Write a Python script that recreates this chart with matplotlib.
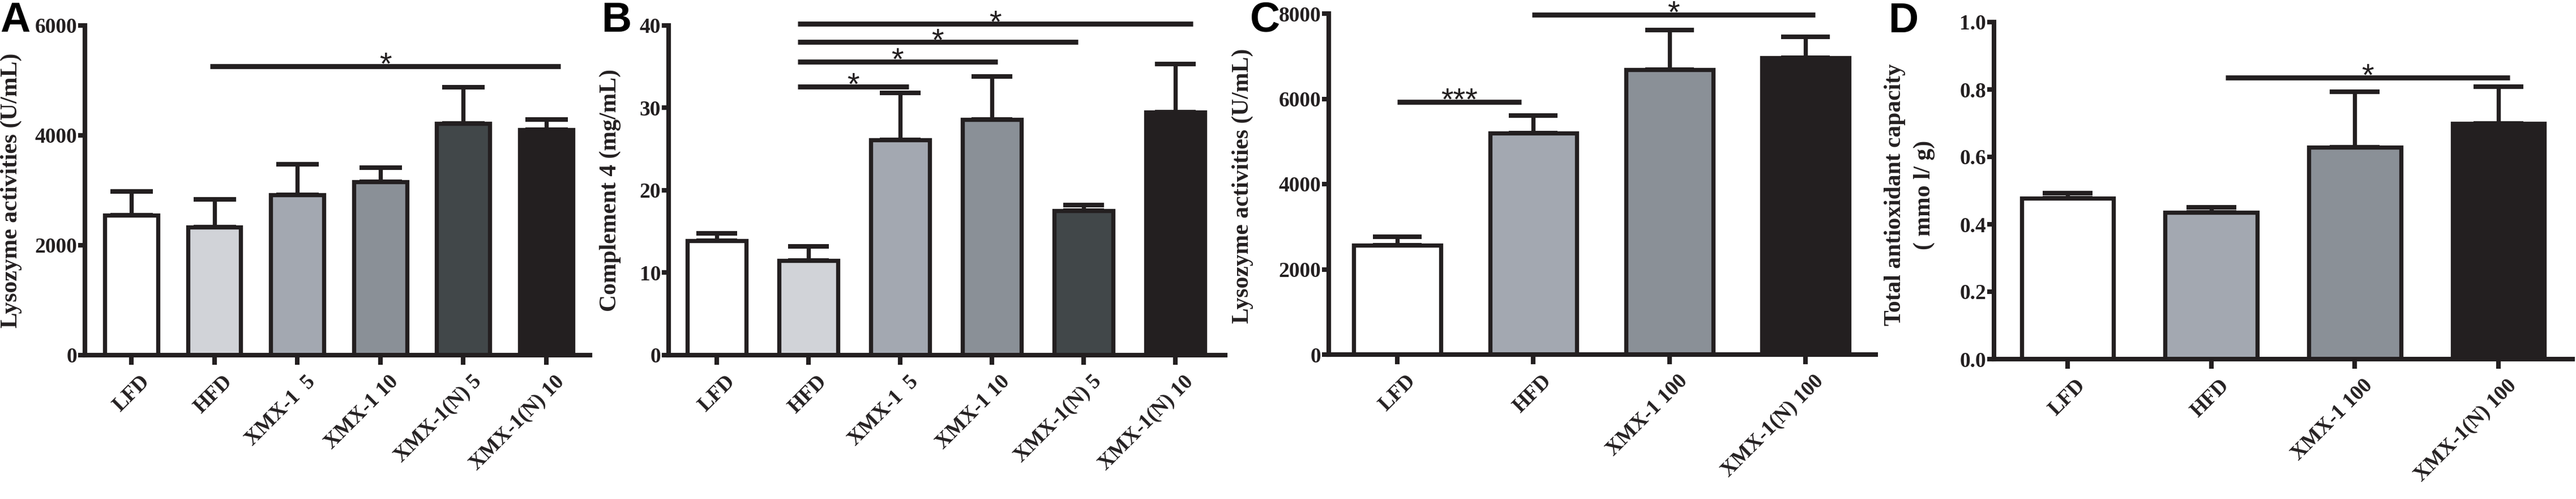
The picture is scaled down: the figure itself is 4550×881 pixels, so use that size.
import matplotlib
matplotlib.use("Agg")
import matplotlib.pyplot as plt
import matplotlib.transforms as mtransforms
import numpy as np

# ---------------- data ----------------
cats_AB = ["LFD", "HFD", "XMX-1  5", "XMX-1 10", "XMX-1(N) 5", "XMX-1(N) 10"]
cats_CD = ["LFD", "HFD", "XMX-1 100", "XMX-1(N) 100"]

A_mean = [2550, 2330, 2920, 3150, 4220, 4100]
A_err = [430, 510, 555, 260, 655, 190]

B_mean = [13.9, 11.5, 26.1, 28.6, 17.5, 29.5]
B_err = [0.9, 1.7, 5.7, 5.2, 0.7, 5.8]

C_mean = [2560, 5190, 6680, 6960]
C_err = [205, 415, 940, 500]

D_mean = [0.477, 0.436, 0.628, 0.700]
D_err = [0.016, 0.014, 0.166, 0.108]

A_yticks = [0, 2000, 4000, 6000]
B_yticks = [0, 10, 20, 30, 40]
C_yticks = [0, 2000, 4000, 6000, 8000]
D_yticks = [0.0, 0.2, 0.4, 0.6, 0.8, 1.0]

# significance brackets: (from, to, level, text)
A_sig = [(0.95, 5.17, 5260, "*")]
B_sig = [(0.88, 2.09, 32.6, "*"), (0.88, 3.06, 35.6, "*"),
         (0.88, 3.94, 38.0, "*"), (0.88, 5.19, 40.2, "*")]
C_sig = [(0.0, 0.91, 5930, "***"), (0.99, 3.07, 7980, "*")]
D_sig = [(1.10, 3.08, 0.836, "*")]

colors_AB = ["#ffffff", "#d1d3d8", "#a3a8b1", "#8a9097", "#414749", "#231f20"]
colors_CD = ["#ffffff", "#a3a8b1", "#8a9097", "#231f20"]

# ---------------- figure ----------------
W, H, DPI = 4550, 881, 100
fig = plt.figure(figsize=(W / DPI, H / DPI), dpi=DPI)
fig.patch.set_facecolor("white")

INK = "#231f20"
SERIF = "Liberation Serif"
LW = 5.3


def make_axes(left, right, top, zero):
    return fig.add_axes([left / W, (H - zero) / H, (right - left) / W, (zero - top) / H])


def panel(ax, cats, mean, err, colors, yticks, xlim, sig, capsize, yfmt):
    x = np.arange(len(cats))
    ax.bar(x, mean, width=0.64, color=colors, edgecolor=INK, linewidth=LW, zorder=3)
    ax.errorbar(x, mean, yerr=[np.zeros(len(err)), err], fmt="none", ecolor=INK,
                elinewidth=LW, capsize=capsize, capthick=LW * 1.1, zorder=2)
    ax.set_xlim(*xlim)
    ax.set_ylim(yticks[0], yticks[-1])
    ax.set_yticks(yticks)
    ax.set_yticklabels([yfmt.format(v) for v in yticks])
    ax.set_xticks(x)
    ax.set_xticklabels(cats, rotation=45, ha="right", rotation_mode="anchor")
    for s in ["top", "right"]:
        ax.spines[s].set_visible(False)
    for s in ["left", "bottom"]:
        ax.spines[s].set_linewidth(LW * 1.1)
        ax.spines[s].set_color(INK)
        ax.spines[s].set_zorder(5)
    ax.tick_params(axis="x", length=12, width=LW * 1.1, color=INK, pad=9)
    ax.tick_params(axis="y", length=9, width=LW * 1.1, color=INK, pad=1)
    for lab in ax.get_xticklabels() + ax.get_yticklabels():
        lab.set_fontfamily(SERIF)
        lab.set_fontweight("bold")
        lab.set_fontsize(27)
        lab.set_color(INK)
    off = mtransforms.ScaledTranslation(10 / 72, 0, fig.dpi_scale_trans)
    for lab in ax.get_xticklabels():
        lab.set_transform(lab.get_transform() + off)
    for x1, x2, y, txt in sig:
        ax.plot([x1, x2], [y, y], color=INK, lw=LW * 1.2, solid_capstyle="butt",
                clip_on=False, zorder=4)
        ax.annotate(txt, xy=((x1 + x2) / 2, y), xytext=(0, -10), textcoords="offset points",
                    ha="center", va="baseline", fontsize=40, fontfamily="Liberation Sans",
                    color=INK, annotation_clip=False, zorder=4)
    ax.set_facecolor("none")


axA = make_axes(150, 1042, 45, 627)
panel(axA, cats_AB, A_mean, A_err, colors_AB, A_yticks, (-0.559, 5.525), A_sig, 27, "{:d}")

axB = make_axes(1181, 2164, 45, 627)
panel(axB, cats_AB, B_mean, B_err, colors_AB, B_yticks, (-0.525, 5.543), B_sig, 26, "{:d}")

axC = make_axes(2347, 3313, 24, 626)
panel(axC, cats_CD, C_mean, C_err, colors_CD, C_yticks, (-0.504, 3.516), C_sig, 31, "{:d}")

axD = make_axes(3522, 4544, 39, 634)
panel(axD, cats_CD, D_mean, D_err, colors_CD, D_yticks, (-0.512, 3.516), D_sig, 32, "{:.1f}")

# y labels
lab_kw = dict(rotation=90, ha="center", va="center", fontfamily=SERIF,
              fontweight="bold", fontsize=30, color=INK)
fig.text(20 / W, 1 - 336 / H, "Lysozyme activities (U/mL)", **lab_kw)
fig.text(1078 / W, 1 - 336 / H, "Complement 4 (mg/mL)", **lab_kw)
fig.text(2195 / W, 1 - 328 / H, "Lysozyme activities (U/mL)", **lab_kw)
fig.text(3373 / W, 1 - 344 / H, "Total antioxidant capacity\n( mmo l/ g)",
         multialignment="center", linespacing=1.45, **lab_kw)

# panel letters
let_kw = dict(ha="left", va="baseline", fontfamily="Liberation Sans",
              fontweight="bold", fontsize=53, color="black")
fig.text(0 / W, 1 - 56 / H, "A", **let_kw)
fig.text(1062 / W, 1 - 56 / H, "B", **let_kw)
fig.text(2208 / W, 1 - 55 / H, "C", **let_kw)
fig.text(3335 / W, 1 - 57 / H, "D", **let_kw)

fig.savefig("out.png", dpi=DPI, facecolor="white")
